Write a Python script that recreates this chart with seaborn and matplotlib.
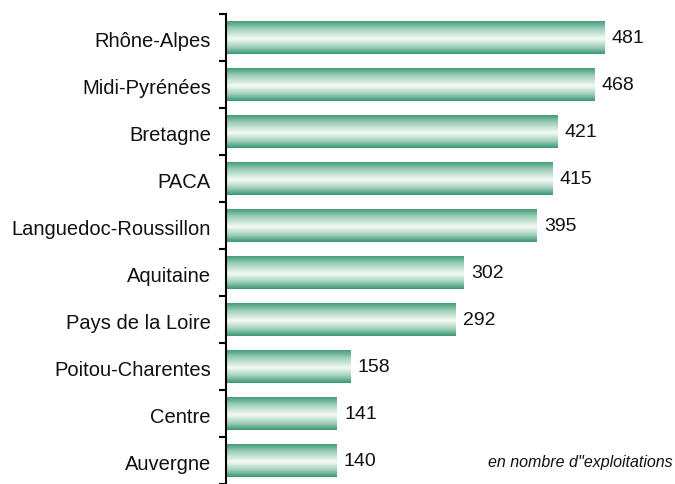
import numpy as np
import matplotlib
matplotlib.use("Agg")
import matplotlib.pyplot as plt
import seaborn as sns
from matplotlib.colors import LinearSegmentedColormap

# data
regions = ["Rhône-Alpes", "Midi-Pyrénées", "Bretagne", "PACA", "Languedoc-Roussillon",
           "Aquitaine", "Pays de la Loire", "Poitou-Charentes", "Centre", "Auvergne"]
counts = [481, 468, 421, 415, 395, 302, 292, 158, 141, 140]
note = "en nombre d''exploitations"

sns.set_theme(style="white")
plt.rcParams['font.family'] = ['Liberation Sans', 'DejaVu Sans']

fig = plt.figure(figsize=(6.75, 4.84), dpi=100)
ax = fig.add_axes([0.335, 0.0, 0.655, 0.971])

sns.barplot(x=counts, y=regions, orient="h", ax=ax, width=0.72, color="white")

# green -> white -> green gradient across each bar (vertical direction)
cmap = LinearSegmentedColormap.from_list(
    "bar_grad", [(0.0, "#3a9872"), (0.25, "#9fcfba"), (0.55, "#f5faf7"),
                 (0.8, "#9fcfba"), (1.0, "#3a9872")])
grad = np.linspace(0, 1, 64).reshape(-1, 1)
for p in ax.patches:
    x0, y0 = p.get_x(), p.get_y()
    w, h = p.get_width(), p.get_height()
    im = ax.imshow(grad, cmap=cmap, aspect="auto", interpolation="bilinear",
                   extent=[x0, x0 + w, y0 + h, y0], zorder=2)
    im.set_clip_path(p)
    p.set_edgecolor("none")

ax.set_xlim(0, 562)
ax.set_ylim(len(regions) - 0.5, -0.5)

for i, v in enumerate(counts):
    ax.text(v + 9, i + 0.03, str(v), va="center", ha="left", fontsize=14, color="#111111")

ax.text(1.009, 0.045, note, transform=ax.transAxes, ha="right", va="center",
        fontsize=11.5, style="italic", color="#111111")

sns.despine(ax=ax, top=True, right=True, bottom=True)
ax.spines["left"].set_color("black")
ax.spines["left"].set_linewidth(1.5)
ax.set_xticks([])
ax.set_yticks(np.arange(len(regions)) + 0.04)
ax.set_yticklabels(regions, fontsize=14.5, color="#111111")
ax.tick_params(axis="y", which="major", length=0, pad=11)
ax.set_yticks(np.arange(-0.5, len(regions), 1.0), minor=True)
ax.tick_params(axis="y", which="minor", length=5, width=1.5, color="black", direction="out", left=True)
ax.set_xlabel("")
ax.set_ylabel("")

fig.savefig("out.png", dpi=100)
